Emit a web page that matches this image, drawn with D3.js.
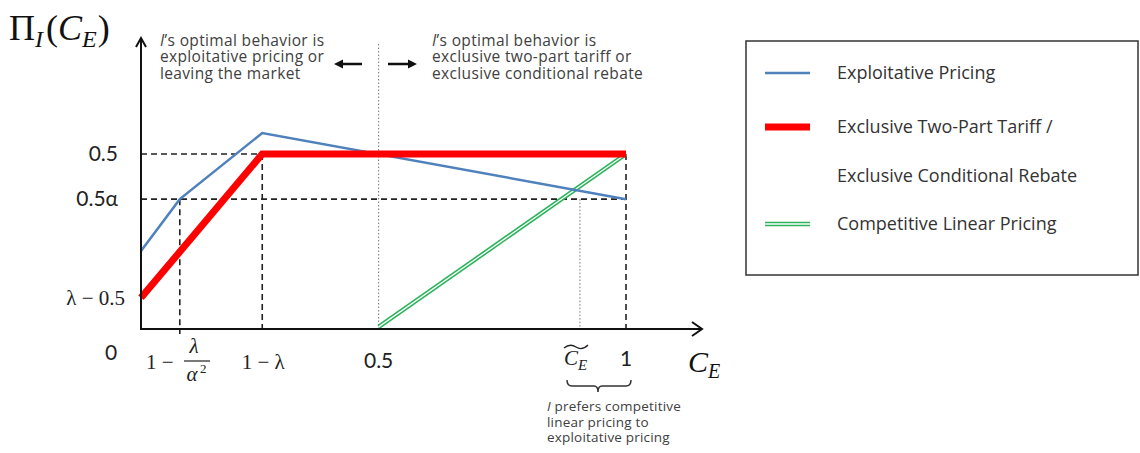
<!DOCTYPE html>
<html>
<head>
<meta charset="utf-8">
<script src="https://cdn.jsdelivr.net/npm/d3@7"></script>
<style>
  body { margin: 0; background: #fff; }
  svg { display: block; }
  .sans { font-family: "Open Sans", Lato, sans-serif; }
  .num { font-family: Lato, "Open Sans", sans-serif; }
  .math { font-family: "Liberation Serif", "DejaVu Serif", serif; }
</style>
</head>
<body>
<div id="chart"></div>
<script>
// values (C_E on x, profit on y, schematic units)
var exploitative = [
  { c: 0, p: 0.223 }, { c: 0.08, p: 0.371 }, { c: 0.25, p: 0.56 }, { c: 1, p: 0.371 }
];
var exclusive = [
  { c: 0, p: 0.089 }, { c: 0.25, p: 0.5 }, { c: 1, p: 0.5 }
];
var competitive = [
  { c: 0.49, p: 0.006 }, { c: 1, p: 0.5 }
];
var yTickVals = [0.5, 0.371, 0.089];
var yTickLabels = ["0.5", "0.5\u03b1", "\u03bb \u2212 0.5"];
var xTickVals = [0.08, 0.25, 0.49, 0.905, 1];
var legendLabels = ["Exploitative Pricing", "Exclusive Two-Part Tariff /", "Exclusive Conditional Rebate", "Competitive Linear Pricing"];
var leftNote = ["I\u2019s optimal behavior is", "exploitative pricing or", "leaving the market"];
var rightNote = ["I\u2019s optimal behavior is", "exclusive two-part tariff or", "exclusive conditional rebate"];
var braceNote = ["I prefers competitive", "linear pricing to", "exploitative pricing"];

var width = 1140, height = 453;
var svg = d3.select("#chart").append("svg")
    .attr("width", width)
    .attr("height", height);

var x = d3.scaleLinear().domain([0, 1]).range([141, 626]);
var y = d3.scaleLinear().domain([0, 0.5]).range([329, 154]);

var textGray = "#404040";

// reference lines
function dash(x1, y1, x2, y2, da, w, col) {
  svg.append("line")
    .attr("x1", x1).attr("y1", y1).attr("x2", x2).attr("y2", y2)
    .attr("stroke", col || "#222")
    .attr("stroke-width", w || 1.6)
    .attr("stroke-dasharray", da);
}
dash(x(0), y(yTickVals[0]), x(1), y(yTickVals[0]), "6,4");
dash(x(0), y(yTickVals[1]), x(1), y(yTickVals[1]), "6,4");
dash(x(xTickVals[0]), y(yTickVals[1]), x(xTickVals[0]), y(0) + 5, "6,4");
dash(x(xTickVals[1]), y(exclusive[1].p), x(xTickVals[1]), y(0) + 5, "6,4");
dash(x(xTickVals[4]), y(0.5), x(xTickVals[4]), y(0) + 5, "6,4");
dash(x(xTickVals[2]), 44, x(xTickVals[2]), y(0), "1.5,2", 1, "#777");
dash(x(xTickVals[3]), y(yTickVals[1]), x(xTickVals[3]), y(0), "1.5,2", 1, "#777");

var line = d3.line().x(function (d) { return x(d.c); }).y(function (d) { return y(d.p); });

// competitive: double green line
svg.append("path").attr("d", line(competitive))
    .attr("fill", "none").attr("stroke", "#2db35c").attr("stroke-width", 4.5);
svg.append("path").attr("d", line(competitive))
    .attr("fill", "none").attr("stroke", "#fff").attr("stroke-width", 1.3);

svg.append("path").attr("d", line(exploitative))
    .attr("fill", "none").attr("stroke", "#4f81bd").attr("stroke-width", 2.5);

svg.append("path").attr("d", line(exclusive))
    .attr("fill", "none").attr("stroke", "#ff0000").attr("stroke-width", 7);

// axes with open arrowheads
svg.append("line").attr("x1", x(0)).attr("y1", y(0)).attr("x2", x(0)).attr("y2", 38)
    .attr("stroke", "#111").attr("stroke-width", 2);
svg.append("line").attr("x1", x(0) - 1).attr("y1", y(0)).attr("x2", 702).attr("y2", y(0))
    .attr("stroke", "#111").attr("stroke-width", 2);
svg.append("path").attr("d", "M" + (x(0) - 5) + ",47 L" + x(0) + ",38 L" + (x(0) + 5) + ",47")
    .attr("fill", "none").attr("stroke", "#111").attr("stroke-width", 2);
svg.append("path").attr("d", "M692," + (y(0) - 7) + " L702," + y(0) + " L692," + (y(0) + 7))
    .attr("fill", "none").attr("stroke", "#111").attr("stroke-width", 2);

// y tick labels
var yEnd = [118, 118, 125];
svg.selectAll(".ylab").data(yTickVals).enter().append("text")
    .attr("class", function (d, i) { return i == 2 ? "math" : "num"; })
    .attr("x", function (d, i) { return yEnd[i]; })
    .attr("y", function (d) { return y(d) + 7; })
    .attr("text-anchor", "end")
    .attr("font-size", 21)
    .attr("fill", "#222")
    .text(function (d, i) { return yTickLabels[i]; });

// x tick labels
var xl = svg.append("g").attr("fill", "#222").attr("font-size", 21);
xl.append("text").attr("class", "num").attr("x", 111).attr("y", 360).attr("text-anchor", "middle").text("0");
xl.append("text").attr("class", "math").attr("x", 146).attr("y", 369).text("1 \u2212");
xl.append("text").attr("class", "math").attr("x", 194).attr("y", 353).attr("text-anchor", "middle").attr("font-style", "italic").text("\u03bb");
xl.append("line").attr("x1", 184).attr("x2", 210).attr("y1", 361).attr("y2", 361).attr("stroke", "#222").attr("stroke-width", 1.2);
xl.append("text").attr("class", "math").attr("x", 192).attr("y", 381).attr("text-anchor", "middle").attr("font-style", "italic").text("\u03b1");
xl.append("text").attr("class", "math").attr("x", 200).attr("y", 373).attr("font-size", 13).text("2");
xl.append("text").attr("class", "math").attr("x", x(xTickVals[1]) + 1).attr("y", 369).attr("text-anchor", "middle").text("1 \u2212 \u03bb");
xl.append("text").attr("class", "num").attr("x", x(xTickVals[2])).attr("y", 368).attr("text-anchor", "middle").text("0.5");
xl.append("text").attr("class", "num").attr("x", x(xTickVals[4])).attr("y", 366).attr("text-anchor", "middle").text("1");
var ct = xl.append("text").attr("class", "math").attr("x", 564).attr("y", 365).attr("font-style", "italic");
ct.append("tspan").text("C");
ct.append("tspan").attr("font-size", 15).attr("dy", 5).text("E");
xl.append("path").attr("d", "M564,348 Q570,343 576,347 T588,345")
    .attr("fill", "none").attr("stroke", "#222").attr("stroke-width", 1.3);

// axis titles
var cx = svg.append("text").attr("class", "math").attr("x", 688).attr("y", 372)
    .attr("font-size", 30).attr("font-style", "italic").attr("fill", "#111");
cx.append("tspan").text("C");
cx.append("tspan").attr("font-size", 20).attr("dy", 6).text("E");

var py = svg.append("text").attr("class", "math").attr("x", 9).attr("y", 40)
    .attr("font-size", 36).attr("fill", "#111");
py.append("tspan").text("\u03a0");
py.append("tspan").attr("font-size", 24).attr("dy", 7).attr("font-style", "italic").text("I");
py.append("tspan").attr("dy", -7).attr("dx", 3).text("(");
py.append("tspan").attr("font-style", "italic").text("C");
py.append("tspan").attr("font-size", 24).attr("dy", 7).attr("font-style", "italic").text("E");
py.append("tspan").attr("dy", -7).attr("dx", 1).text(")");

// region notes
function note(lines, x0, y0, lh, fs, ls) {
  var t = svg.append("text").attr("class", "sans").attr("font-size", fs)
      .attr("letter-spacing", ls).attr("fill", textGray);
  lines.forEach(function (s, i) {
    var ts = t.append("tspan").attr("x", x0).attr("y", y0 + i * lh);
    if (s.charAt(0) == "I") {
      ts.append("tspan").attr("font-style", "italic").text("I");
      ts.append("tspan").text(s.slice(1));
    } else {
      ts.text(s);
    }
  });
}
note(leftNote, 160, 46, 16.3, 15.5, 0.35);
note(rightNote, 432, 46, 16.3, 15.5, 0.35);
note(braceNote, 547, 411, 15.5, 13.5, 0.2);

// arrows either side of the 0.5 divider
function arrow(x1, x2, yy) {
  var dir = x2 > x1 ? 1 : -1;
  svg.append("line").attr("x1", x1).attr("y1", yy).attr("x2", x2 - dir * 6).attr("y2", yy)
      .attr("stroke", "#111").attr("stroke-width", 2.5);
  svg.append("path").attr("d", "M" + x2 + "," + yy + " L" + (x2 - dir * 9) + "," + (yy - 4.5) + " L" + (x2 - dir * 9) + "," + (yy + 4.5) + "Z")
      .attr("fill", "#111");
}
arrow(362, 334, 64);
arrow(388, 417, 64);

// brace under C~_E .. 1
svg.append("path")
    .attr("d", "M567,380 Q567,386 572,386 L594,386 Q598,386 598,392 Q598,386 602,386 L626,386 Q631,386 631,380")
    .attr("fill", "none").attr("stroke", "#333").attr("stroke-width", 1.5);

// legend
var lg = svg.append("g");
lg.append("rect").attr("x", 746).attr("y", 41).attr("width", 392).attr("height", 234)
    .attr("fill", "none").attr("stroke", "#333").attr("stroke-width", 1.5);
var lgY = [73, 127, 176, 224];
lg.append("line").attr("x1", 765).attr("x2", 810).attr("y1", lgY[0]).attr("y2", lgY[0])
    .attr("stroke", "#4f81bd").attr("stroke-width", 2.5);
lg.append("line").attr("x1", 765).attr("x2", 810).attr("y1", lgY[1]).attr("y2", lgY[1])
    .attr("stroke", "#ff0000").attr("stroke-width", 7);
lg.append("line").attr("x1", 765).attr("x2", 810).attr("y1", lgY[3]).attr("y2", lgY[3])
    .attr("stroke", "#2db35c").attr("stroke-width", 4.5);
lg.append("line").attr("x1", 765).attr("x2", 810).attr("y1", lgY[3]).attr("y2", lgY[3])
    .attr("stroke", "#fff").attr("stroke-width", 1.3);
lg.selectAll(".lt").data(legendLabels).enter().append("text")
    .attr("class", "sans")
    .attr("x", 837)
    .attr("y", function (d, i) { return lgY[i] + 6; })
    .attr("font-size", 18)
    .attr("fill", "#333")
    .text(function (d) { return d; });
</script>
</body>
</html>
